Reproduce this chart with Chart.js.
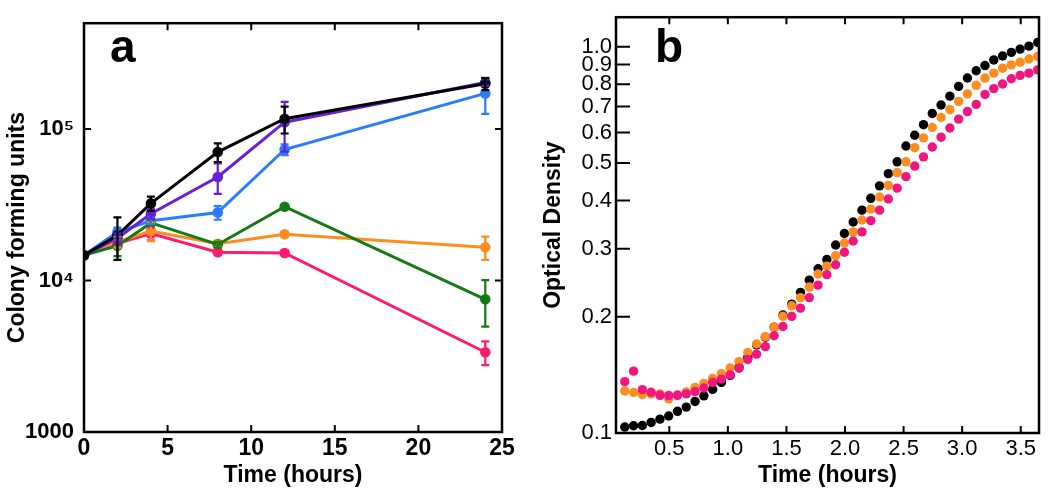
<!DOCTYPE html>
<html lang="en">
<head>
<meta charset="UTF-8">
<title>Colony forming units and optical density</title>
<script src="https://cdn.jsdelivr.net/npm/chart.js"></script>
<style>
    * { margin: 0; padding: 0; box-sizing: border-box; }
    body { background: #fff; width: 1050px; height: 492px; overflow: hidden; position: relative; }
    #panelA { position: absolute; left: 0; top: 0; }
    #panelB { position: absolute; left: 530px; top: 0; }
</style>
</head>
<body>
<canvas id="panelA" width="530" height="492"></canvas>
<canvas id="panelB" width="520" height="492"></canvas>
<script>
// ---- panel a: colony forming units vs time ----
const cfuTimes  = [0, 2, 4, 8, 12, 24];
const cfuBlack  = [14700, 19900, 32300, 70500, 117000, 199000];
const cfuPurple = [14700, 19000, 27600, 48300, 111000, 203000];
const cfuBlue   = [14700, 20900, 24800, 28100, 73300, 172000];
const cfuGreen  = [14700, 17000, 24000, 17300, 30700, 7520];
const cfuOrange = [14700, 18000, 21200, 17500, 20200, 16600];
const cfuPink   = [14700, 17600, 20400, 15400, 15200, 3360];
// symmetric error (same units as the values)
const errBlack  = [0, 6200, 3500, 10000, 23500, 18000];
const errPurple = [0, 1500, 2000, 11000, 40000, 10000];
const errBlue   = [0, 1500, 1200, 2900, 6000, 46000];
const errGreen  = [0, 2500, 1000, 800, 800, 2550];
const errOrange = [0, 1500, 3000, 800, 800, 2900];
const errPink   = [0, 1000, 2000, 600, 600, 600];
const cfuTicksY = [1000, 10000, 100000];
const cfuTicksX = [0, 5, 10, 15, 20, 25];

// ---- panel b: optical density vs time ----
const odTimes = [0.120, 0.195, 0.270, 0.345, 0.420, 0.495, 0.570, 0.645, 0.720, 0.795,
                 0.870, 0.945, 1.020, 1.095, 1.170, 1.245, 1.320, 1.395, 1.470, 1.545,
                 1.620, 1.695, 1.770, 1.845, 1.920, 1.995, 2.070, 2.145, 2.220, 2.295,
                 2.370, 2.445, 2.520, 2.595, 2.670, 2.745, 2.820, 2.895, 2.970, 3.045,
                 3.120, 3.195, 3.270, 3.345, 3.420, 3.495, 3.570, 3.645];
const odBlack = [0.1036, 0.1044, 0.1046, 0.1065, 0.1086, 0.1107, 0.1138, 0.1167, 0.1207, 0.1248,
                 0.1297, 0.1352, 0.141, 0.148, 0.157, 0.169, 0.177, 0.188, 0.202, 0.2156,
                 0.2313, 0.2487, 0.2663, 0.2813, 0.3068, 0.3286, 0.3519, 0.3776, 0.4052, 0.4365,
                 0.4694, 0.5037, 0.5534, 0.5903, 0.6285, 0.6718, 0.7068, 0.7451, 0.79, 0.83,
                 0.8667, 0.8942, 0.9247, 0.9466, 0.9672, 0.9863, 1.004, 1.026];
const odOrange = [0.1285, 0.1273, 0.1258, 0.1263, 0.1263, 0.1226, 0.1255, 0.1278, 0.1313, 0.1344,
                  0.1384, 0.1425, 0.1474, 0.1530, 0.1617, 0.1700, 0.1776, 0.1879, 0.2005, 0.2135,
                  0.2242, 0.2387, 0.2581, 0.2705, 0.2880, 0.3105, 0.3318, 0.3561, 0.380, 0.4084,
                  0.4374, 0.4721, 0.5037, 0.5480, 0.5811, 0.6187, 0.6561, 0.6877, 0.722, 0.7554,
                  0.7948, 0.8299, 0.8548, 0.8803, 0.8977, 0.9120, 0.9301, 0.9447];
const odPink = [0.1358, 0.1446, 0.1295, 0.1275, 0.1252, 0.1250, 0.1252, 0.1263, 0.1280, 0.1308,
                0.1352, 0.1379, 0.1414, 0.1471, 0.155, 0.160, 0.1674, 0.1786, 0.1887, 0.2005,
                0.2106, 0.2242, 0.2415, 0.2571, 0.2727, 0.2937, 0.3141, 0.3318, 0.3547, 0.3776,
                0.4036, 0.4305, 0.4611, 0.4911, 0.5188, 0.5501, 0.5834, 0.6163, 0.6498, 0.6797,
                0.7096, 0.7525, 0.7794, 0.8011, 0.8266, 0.8433, 0.8548, 0.8717];
const odTicksY = [0.1, 0.2, 0.3, 0.4, 0.5, 0.6, 0.7, 0.8, 0.9, 1.0];
const odTicksX = [0.5, 1.0, 1.5, 2.0, 2.5, 3.0, 3.5];

const FONT = '"Liberation Sans", Arial, Helvetica, sans-serif';
Chart.defaults.font.family = FONT;
Chart.defaults.color = '#000';

const toPoints = (xs, ys) => xs.map((x, i) => ({ x: x, y: ys[i] }));

// box round the plot, inward tick marks, panel letter
const framePlugin = {
    id: 'frame',
    afterDraw(chart, args, opts) {
        const { ctx, chartArea: a, scales } = chart;
        ctx.save();
        ctx.strokeStyle = '#000';
        ctx.lineWidth = 2;
        ctx.beginPath();
        (opts.bottom || []).forEach(v => {
            const x = scales.x.getPixelForValue(v);
            ctx.moveTo(x, a.bottom); ctx.lineTo(x, a.bottom - opts.tickX);
        });
        (opts.top || []).forEach(v => {
            const x = scales.x.getPixelForValue(v);
            ctx.moveTo(x, a.top); ctx.lineTo(x, a.top + opts.tickX);
        });
        (opts.left || []).forEach(v => {
            const y = scales.y.getPixelForValue(v);
            ctx.moveTo(a.left, y); ctx.lineTo(a.left + opts.tickY, y);
        });
        (opts.right || []).forEach(v => {
            const y = scales.y.getPixelForValue(v);
            ctx.moveTo(a.right, y); ctx.lineTo(a.right - opts.tickY, y);
        });
        ctx.stroke();
        ctx.lineWidth = 2.5;
        ctx.strokeRect(a.left, a.top, a.right - a.left, a.bottom - a.top);
        ctx.fillStyle = '#000';
        ctx.font = 'bold 46px ' + FONT;
        ctx.textBaseline = 'alphabetic';
        ctx.fillText(opts.letter, opts.lx, opts.ly);
        ctx.restore();
    }
};

// vertical error bars with caps
const errorBarPlugin = {
    id: 'errorBars',
    afterDatasetsDraw(chart) {
        const { ctx, scales } = chart;
        ctx.save();
        ctx.lineWidth = 2.2;
        for (let i = chart.data.datasets.length - 1; i >= 0; i--) {
            const ds = chart.data.datasets[i];
            if (!ds.errors) continue;
            ctx.strokeStyle = ds.borderColor;
            ds.data.forEach((p, j) => {
                const e = ds.errors[j];
                if (!e) return;
                const x = scales.x.getPixelForValue(p.x);
                const y1 = scales.y.getPixelForValue(p.y + e);
                const y2 = scales.y.getPixelForValue(p.y - e);
                ctx.beginPath();
                ctx.moveTo(x, y1); ctx.lineTo(x, y2);
                ctx.moveTo(x - 4, y1); ctx.lineTo(x + 4, y1);
                ctx.moveTo(x - 4, y2); ctx.lineTo(x + 4, y2);
                ctx.stroke();
            });
        }
        ctx.restore();
    }
};

function cfuSet(label, values, errors, color) {
    return {
        label: label,
        data: toPoints(cfuTimes, values),
        errors: errors,
        borderColor: color,
        backgroundColor: color,
        pointBackgroundColor: color,
        pointBorderWidth: 0,
        pointRadius: 5.3,
        borderWidth: 3,
        showLine: true,
        tension: 0
    };
}

new Chart(document.getElementById('panelA'), {
    type: 'scatter',
    data: {
        datasets: [
            cfuSet('black', cfuBlack, errBlack, '#000000'),
            cfuSet('purple', cfuPurple, errPurple, '#6a1ed8'),
            cfuSet('blue', cfuBlue, errBlue, '#2a7cff'),
            cfuSet('green', cfuGreen, errGreen, '#157a15'),
            cfuSet('orange', cfuOrange, errOrange, '#ff8c1f'),
            cfuSet('pink', cfuPink, errPink, '#ff1a6e')
        ]
    },
    options: {
        responsive: false,
        animation: false,
        layout: { padding: { top: 12, right: 28, left: 0, bottom: 0 } },
        plugins: {
            legend: { display: false },
            tooltip: { enabled: false },
            frame: {
                letter: 'a', lx: 110, ly: 62, tickX: 7, tickY: 7,
                bottom: [5, 10, 15, 20], top: [5, 10, 15, 20],
                left: [10000, 100000], right: [10000, 100000]
            }
        },
        scales: {
            x: {
                type: 'linear', min: 0, max: 25,
                grid: { display: false, drawTicks: false },
                border: { display: false },
                afterBuildTicks: s => { s.ticks = cfuTicksX.map(v => ({ value: v })); },
                afterFit: s => { s.height = 60; },
                ticks: { font: { size: 23, weight: 'bold' }, padding: 3, maxRotation: 0 },
                title: { display: true, text: 'Time (hours)', font: { size: 23, weight: 'bold' }, padding: { bottom: 3 } }
            },
            y: {
                type: 'logarithmic', min: 1000, max: 500000,
                grid: { display: false, drawTicks: false },
                border: { display: false },
                afterBuildTicks: s => { s.ticks = cfuTicksY.map(v => ({ value: v })); },
                afterFit: s => { s.width = 84; },
                ticks: {
                    font: { size: 22, weight: 'bold' }, padding: 10,
                    callback: v => v === 1000 ? '1000' : (v === 10000 ? '10\u2074' : '10\u2075')
                },
                title: { display: true, text: 'Colony forming units', font: { size: 23, weight: 'bold' }, padding: { top: 4 } }
            }
        }
    },
    plugins: [framePlugin, errorBarPlugin]
});

function odSet(label, values, color) {
    return {
        label: label,
        data: toPoints(odTimes, values),
        backgroundColor: color,
        pointBackgroundColor: color,
        pointBorderWidth: 0,
        pointRadius: 4.7,
        showLine: false
    };
}

new Chart(document.getElementById('panelB'), {
    type: 'scatter',
    data: {
        datasets: [
            odSet('pink', odPink, '#f0157f'),
            odSet('orange', odOrange, '#ff8c1f'),
            odSet('black', odBlack, '#000000')
        ]
    },
    options: {
        responsive: false,
        animation: false,
        layout: { padding: { top: 12, right: 11, left: 0, bottom: 0 } },
        plugins: {
            legend: { display: false },
            tooltip: { enabled: false },
            frame: {
                letter: 'b', lx: 125, ly: 62, tickX: 7, tickY: 14,
                bottom: odTicksX, top: odTicksX,
                left: odTicksY.slice(1), right: []
            }
        },
        scales: {
            x: {
                type: 'linear', min: 0.045, max: 3.656,
                grid: { display: false, drawTicks: false },
                border: { display: false },
                afterBuildTicks: s => { s.ticks = odTicksX.map(v => ({ value: v })); },
                afterFit: s => { s.height = 59; },
                ticks: { font: { size: 22 }, padding: 3, maxRotation: 0, callback: v => v.toFixed(1) },
                title: { display: true, text: 'Time (hours)', font: { size: 23, weight: 'bold' }, padding: { bottom: 3 } }
            },
            y: {
                type: 'logarithmic', min: 0.1, max: 1.193,
                grid: { display: false, drawTicks: false },
                border: { display: false },
                afterBuildTicks: s => { s.ticks = odTicksY.map(v => ({ value: v })); },
                afterFit: s => { s.width = 86; },
                ticks: { font: { size: 22 }, padding: 4, callback: v => v.toFixed(1) },
                title: { display: true, text: 'Optical Density', font: { size: 23, weight: 'bold' }, padding: { top: 10 } }
            }
        }
    },
    plugins: [framePlugin]
});
</script>
</body>
</html>
